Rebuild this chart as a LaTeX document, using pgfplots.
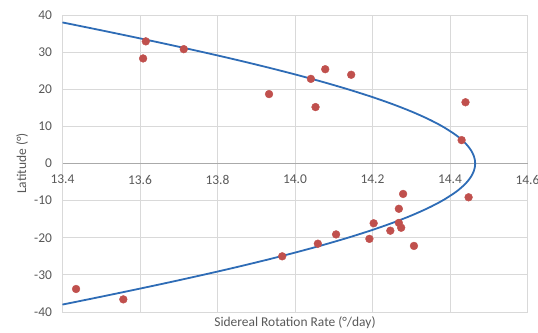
\documentclass[border=0pt]{standalone}
\usepackage{pgfplots}
\pgfplotsset{compat=1.18}
\usepackage{fontspec}
\setmainfont{Carlito}
\definecolor{ptred}{RGB}{192,80,77}
\definecolor{fitblue}{RGB}{46,108,182}
\definecolor{gridgray}{RGB}{217,217,217}
\definecolor{axgray}{RGB}{170,170,170}
\definecolor{txtgray}{RGB}{89,89,89}
\begin{document}
\begin{tikzpicture}
\begin{axis}[
  scale only axis,
  width=465bp, height=297bp,
  xmin=13.4, xmax=14.6, ymin=-40, ymax=40,
  axis x line*=middle, axis y line*=left,
  hide obscured x ticks=false, hide obscured y ticks=false,
  xtick={13.4,13.6,13.8,14.0,14.2,14.4,14.6},
  ytick={-40,-30,-20,-10,0,10,20,30,40},
  grid=major,
  major grid style={gridgray, line width=0.8bp},
  x axis line style={axgray, line width=0.8bp},
  y axis line style={gridgray, line width=0.8bp},
  major tick length=0pt,
  /pgf/number format/assume math mode=true,
  xticklabel style={/pgf/number format/fixed, /pgf/number format/fixed zerofill, /pgf/number format/precision=1, yshift=-8bp},
  yticklabel style={xshift=-7bp},
  tick label style={font=\fontsize{13.5}{15}\selectfont, text=txtgray},
  xlabel={Sidereal Rotation Rate (°/day)},
  ylabel={Latitude (°)},
  label style={font=\fontsize{13.5}{15}\selectfont, text=txtgray},
  xlabel style={at={(axis description cs:0.5,0)}, anchor=north, yshift=-1bp},
  ylabel style={at={(axis description cs:-0.087,0.5)}, anchor=center},
  clip=false,
]
\addplot[fitblue, line width=1.8bp, smooth] coordinates {
(13.3999,38) (13.4942,36) (13.5863,34) (13.6759,32) (13.7625,30) (13.8457,28) (13.9250,26) (14.0001,24) (14.0707,22) (14.1363,20) (14.1967,18) (14.2515,16) (14.3005,14) (14.3435,12) (14.3803,10) (14.4106,8) (14.4233,7) (14.4343,6) (14.4437,5) (14.4513,4) (14.4573,3) (14.4616,2) (14.4641,1) (14.465,0)
(14.4641,-1) (14.4616,-2) (14.4573,-3) (14.4513,-4) (14.4437,-5) (14.4343,-6) (14.4233,-7) (14.4106,-8) (14.3803,-10) (14.3435,-12) (14.3005,-14) (14.2515,-16) (14.1967,-18) (14.1363,-20) (14.0707,-22) (14.0001,-24) (13.9250,-26) (13.8457,-28) (13.7625,-30) (13.6759,-32) (13.5863,-34) (13.4942,-36) (13.3999,-38)
};
\addplot[only marks, mark=*, mark size=3.9bp, mark options={draw=ptred, fill=ptred}] coordinates {
(13.615,32.9) (13.608,28.3) (13.713,30.8) (13.933,18.7)
(14.041,22.8) (14.078,25.4) (14.145,23.9) (14.053,15.2)
(14.440,16.5) (14.430,6.3)
(14.279,-8.2) (14.448,-9.1) (14.268,-12.2) (14.203,-16.1)
(14.268,-16.0) (14.274,-17.3) (14.246,-18.1) (14.106,-19.1)
(14.192,-20.3) (14.059,-21.6) (14.307,-22.2) (13.967,-25.0)
(13.435,-33.8) (13.557,-36.6)
};
\end{axis}
\pgfresetboundingbox
\path (-62.5bp,-21bp) rectangle (475.5bp,312bp);
\end{tikzpicture}
\end{document}
